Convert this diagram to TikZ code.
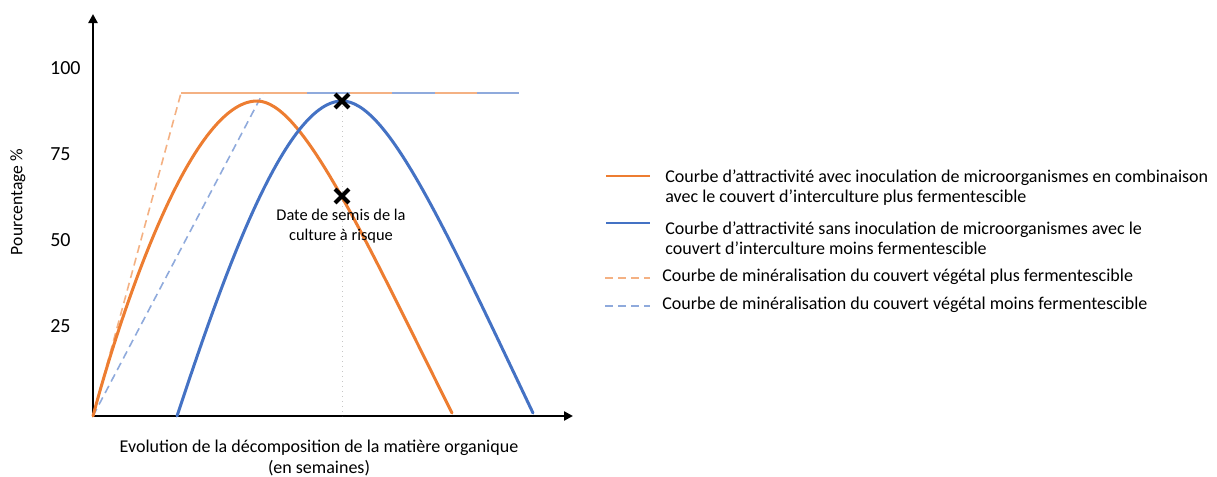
\documentclass[tikz,border=0pt]{standalone}
\usepackage{fontspec}
\setmainfont{Carlito}
\usetikzlibrary{positioning,arrows.meta,shapes.misc}
\definecolor{corange}{RGB}{237,125,49}
\definecolor{cblue}{RGB}{68,114,196}
\definecolor{lorange}{RGB}{244,177,131}
\definecolor{lblue}{RGB}{143,170,220}
\tikzset{axis/.style={draw, line width=1.2pt, -{Triangle[length=4.5pt,width=4.5pt]}}}
\tikzset{courbe/.style={line width=1.5pt, line cap=round}}
\tikzset{minera/.style={line width=0.8pt, dash pattern=on 4pt off 2.5pt}}
\tikzset{plateau/.style={line width=0.9pt}}
\tikzset{lgkey/.style={line width=1.1pt}}
\tikzset{lgtext/.style={anchor=west, align=left, inner sep=0pt, font=\fontsize{9}{10}\selectfont}}
\tikzset{tick/.style={anchor=east, inner sep=0pt, font=\fontsize{10}{12}\selectfont}}
\tikzset{marque/.style={cross out, draw=black, line width=2.1pt, minimum size=4.8pt, inner sep=0pt}}

\begin{document}
\begin{tikzpicture}[x=0.5pt, y=-0.5pt]
	\useasboundingbox (0,0) rectangle (1217,477);
	% axes
	\coordinate (O) at (93,416);
	\coordinate (ytop) at (93,14);
	\coordinate (xend) at (573,416);
	\draw[axis] (O) -- (ytop);
	\draw[axis] (O) -- (xend);
	\node[tick] (t100) at (81,68) {100};
	\node[tick] (t75) at (71,154) {75};
	\node[tick] (t50) at (71,240) {50};
	\node[tick] (t25) at (71,326) {25};
	\node[rotate=90, font=\fontsize{8.8}{10}\selectfont] (ylab) at (18,202) {Pourcentage \%};
	\node[align=center, font=\fontsize{9}{10.5}\selectfont] (xlab) at (319,458)
		{Evolution de la décomposition de la matière organique\\(en semaines)};
	% date de semis
	\coordinate (pic) at (342,101);
	\coordinate (pied) at (342,416);
	\draw[gray!45, dotted, line width=0.5pt] (pic) -- (pied);
	% mineralisation
	\coordinate (pO) at (181,93);
	\coordinate (pB) at (263,93);
	\draw[minera, lorange] (O) -- (pO);
	\draw[minera, lblue] (O) -- (pB);
	\draw[plateau, lorange] (pO) -- (477,93);
	\draw[plateau, lblue, dash pattern=on 21.5pt off 21pt] (307,93) -- (519,93);
	% attractivite
	\draw[courbe, corange] (O) .. controls (120,315) and (190,101) .. (257,101)
		.. controls (302,101) and (362,233) .. (452,413);
	\draw[courbe, cblue] (177,416) .. controls (217,296) and (282,101) .. (pic)
		.. controls (387,101) and (443,224) .. (533,413);
	\node[marque] (mk1) at (pic) {};
	\node[marque] (mk2) at (342,196) {};
	\node[align=center, font=\fontsize{8.2}{10}\selectfont] (date) at (341,226)
		{Date de semis de la\\culture à risque};
	% legende
	\draw[lgkey, corange] (606,176) -- (650,176);
	\draw[lgkey, cblue] (606,223) -- (650,223);
	\draw[minera, lorange] (605,278) -- (650,278);
	\draw[minera, lblue] (605,306) -- (650,306);
	\node[lgtext] (lg1) at (665,188) {Courbe d’attractivité avec inoculation de microorganismes en combinaison\\avec le couvert d’interculture plus fermentescible};
	\node[lgtext] (lg2) at (665,238) {Courbe d’attractivité sans inoculation de microorganismes avec le\\couvert d’interculture moins fermentescible};
	\node[lgtext] (lg3) at (662,277) {Courbe de minéralisation du couvert végétal plus fermentescible};
	\node[lgtext] (lg4) at (662,305) {Courbe de minéralisation du couvert végétal moins fermentescible};
\end{tikzpicture}
\end{document}
